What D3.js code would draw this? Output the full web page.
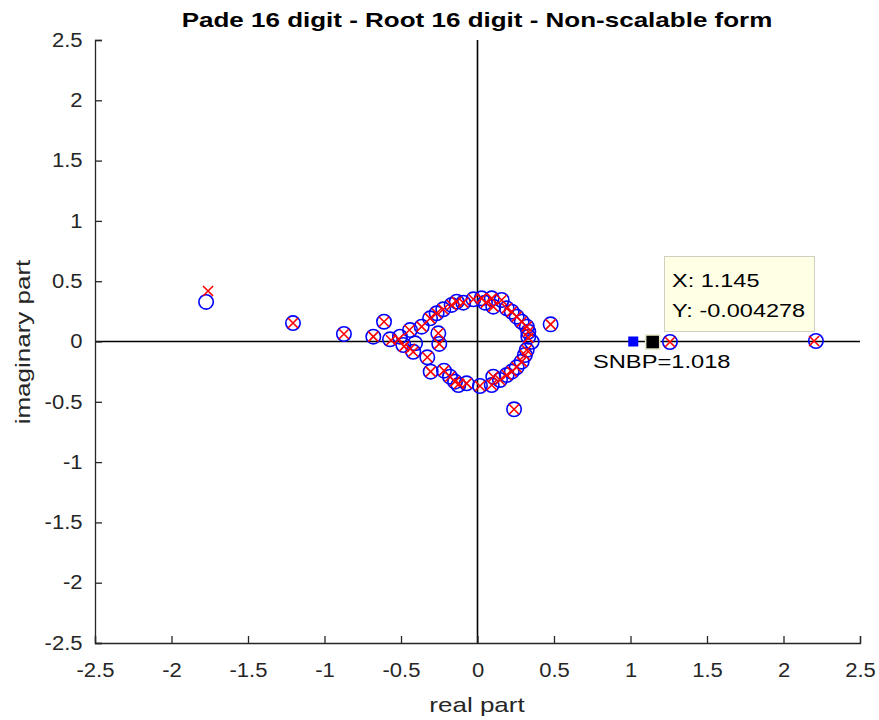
<!DOCTYPE html>
<html><head><meta charset="utf-8">
<script src="https://cdn.jsdelivr.net/npm/d3@7"></script>
<style>body{margin:0;background:#fff}svg{display:block}text{font-family:"Liberation Sans",Arial,sans-serif}</style>
</head><body><svg id="c" width="879" height="720"></svg>
<script>
const xTicks = [-2.5,-2,-1.5,-1,-0.5,0,0.5,1,1.5,2,2.5];
const yTicks = [-2.5,-2,-1.5,-1,-0.5,0,0.5,1,1.5,2,2.5];
// poles (blue circles)
const poleRe = [-1.774,-1.206,-0.873,-0.681,-0.611,-0.572,-0.507,-0.485,-0.441,-0.408,-0.42,-0.365,-0.328,-0.306,-0.31,-0.267,-0.256,-0.25,-0.224,-0.219,-0.169,-0.18,-0.136,-0.147,-0.093,-0.125,-0.071,-0.027,0.016,0.027,0.049,0.093,0.103,0.093,0.103,0.158,0.147,0.191,0.191,0.224,0.224,0.256,0.256,0.289,0.289,0.322,0.31,0.332,0.322,0.354,0.332,0.478,0.239,1.258,2.212];
const poleIm = [0.328,0.153,0.062,0.040,0.164,0.018,0.040,-0.029,0.095,-0.015,-0.085,0.123,-0.131,-0.25,0.192,0.234,0.068,-0.02,0.267,-0.242,0.303,-0.292,0.33,-0.333,0.322,-0.361,-0.347,0.35,-0.369,0.358,0.322,0.358,0.289,-0.361,-0.292,0.344,-0.319,0.275,-0.278,0.247,-0.25,0.206,-0.214,0.164,-0.167,0.123,-0.112,0.081,-0.070,-0.002,0.040,0.142,-0.562,-0.004,0.004];
// zeros (red crosses)
const zeroRe = [-1.761,-1.206,-0.873,-0.681,-0.611,-0.565,-0.515,-0.48,-0.445,-0.44,-0.42,-0.365,-0.328,-0.306,-0.31,-0.267,-0.256,-0.25,-0.224,-0.219,-0.169,-0.18,-0.136,-0.147,-0.093,-0.12,-0.071,-0.027,0.016,0.027,0.055,0.093,0.103,0.093,0.103,0.158,0.147,0.191,0.191,0.224,0.224,0.256,0.256,0.289,0.289,0.322,0.31,0.332,0.322,0.332,0.478,0.239,1.258,2.2];
const zeroIm = [0.419,0.153,0.062,0.040,0.164,0.010,0.02,-0.04,0.095,-0.06,-0.085,0.123,-0.131,-0.25,0.192,0.234,0.068,-0.02,0.267,-0.242,0.303,-0.292,0.33,-0.333,0.322,-0.35,-0.347,0.35,-0.369,0.358,0.322,0.358,0.289,-0.361,-0.292,0.344,-0.319,0.275,-0.278,0.247,-0.25,0.206,-0.214,0.164,-0.167,0.123,-0.112,0.081,-0.070,0.030,0.142,-0.562,-0.004,0.004];
const snbp = {re:1.018, im:0, label:"SNBP=1.018"};
const tip = {re:1.145, im:-0.004278, lines:["X: 1.145","Y: -0.004278"]};

const svg = d3.select("#c");
const x = d3.scaleLinear().domain([-2.5,2.5]).range([95,860]);
const y = d3.scaleLinear().domain([-2.5,2.5]).range([643,40]);
const axCol = "#262626";

// zero lines
svg.append("line").attr("x1",x(-2.5)).attr("x2",x(2.5)).attr("y1",y(0)).attr("y2",y(0)).attr("stroke","#000").attr("stroke-width",1.6);
svg.append("line").attr("x1",x(0)).attr("x2",x(0)).attr("y1",y(-2.5)).attr("y2",y(2.5)).attr("stroke","#000").attr("stroke-width",1.6);

const gx = svg.append("g").attr("transform",`translate(0,${y(-2.5)})`)
  .call(d3.axisBottom(x).tickValues(xTicks).tickSize(-7).tickPadding(20).tickFormat(d=>String(d)));
const gy = svg.append("g").attr("transform",`translate(${x(-2.5)},0)`)
  .call(d3.axisLeft(y).tickValues(yTicks).tickSize(-7).tickPadding(11).tickFormat(d=>String(d)));
[gx,gy].forEach(g=>{
  g.select(".domain").attr("stroke",axCol).attr("stroke-width",1.3);
  g.selectAll(".tick line").attr("stroke",axCol).attr("stroke-width",1.3);
  g.selectAll(".tick text").attr("fill",axCol).attr("font-size",19.5)
    .attr("font-family","Liberation Sans, Arial, sans-serif").attr("transform","scale(1.13,1)");
});

// poles
svg.append("g").selectAll("circle").data(d3.range(poleRe.length)).join("circle")
  .attr("cx",i=>x(poleRe[i])).attr("cy",i=>y(poleIm[i])).attr("r",7.2)
  .attr("fill","none").attr("stroke","#0000ff").attr("stroke-width",1.6);
// zeros
const s = 5;
svg.append("g").selectAll("path").data(d3.range(zeroRe.length)).join("path")
  .attr("d",i=>{const cx=x(zeroRe[i]), cy=y(zeroIm[i]);return `M${cx-s},${cy-s}L${cx+s},${cy+s}M${cx-s},${cy+s}L${cx+s},${cy-s}`;})
  .attr("fill","none").attr("stroke","#ff0000").attr("stroke-width",1.6);

// SNBP marker
svg.append("rect").attr("x",x(snbp.re)-5).attr("y",y(snbp.im)-5).attr("width",10).attr("height",10).attr("fill","#0000ff");
svg.append("text").attr("transform","translate(593,368) scale(1.28,1)").attr("font-size",18.5).attr("fill","#000").text(snbp.label);

// data tip
svg.append("rect").attr("x",x(tip.re)-7).attr("y",y(tip.im)-7).attr("width",14).attr("height",14).attr("fill","#000").attr("stroke","#e8e8c8").attr("stroke-width",1.5);
svg.append("rect").attr("x",664.5).attr("y",256.5).attr("width",150).attr("height",75).attr("fill","#ffffe6").attr("stroke","#d0d0c0").attr("stroke-width",1);
tip.lines.forEach((t,i)=>svg.append("text").attr("transform",`translate(672,${287+i*30}) scale(1.27,1)`).attr("font-size",18.5).attr("fill","#000").text(t));

// title and labels
svg.append("text").attr("transform","translate(477,26.5) scale(1.3,1)").attr("text-anchor","middle").attr("font-size",20).attr("font-weight","bold").attr("fill","#000").text("Pade 16 digit - Root 16 digit - Non-scalable form");
svg.append("text").attr("transform","translate(477,712) scale(1.3,1)").attr("text-anchor","middle").attr("font-size",20).attr("fill",axCol).text("real part");
svg.append("text").attr("transform","translate(30,342) rotate(-90) scale(1.3,1)").attr("text-anchor","middle").attr("font-size",20).attr("fill",axCol).text("imaginary part");
</script></body></html>
